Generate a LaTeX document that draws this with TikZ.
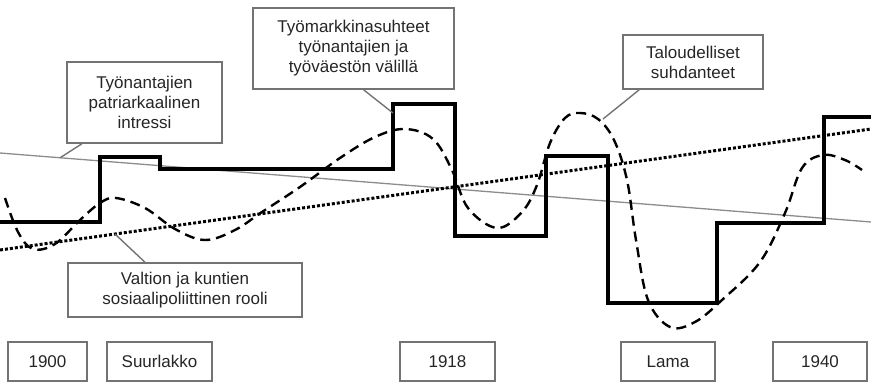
\documentclass[tikz,border=0pt]{standalone}
\usepackage{fontspec}
\setmainfont{Liberation Sans}
\usetikzlibrary{positioning, calc}

\begin{document}
\begin{tikzpicture}[x=1pt, y=-1pt,
    callout/.style={draw=black!55, line width=1.6pt, fill=white, align=center,
        text=black!85, font=\fontsize{17}{20}\selectfont, inner sep=2pt},
    yearbox/.style={callout, minimum height=39pt, anchor=center},
    pointer/.style={draw=black!55, line width=1.4pt},
    trend/.style={black!45, line width=1.3pt},
    levels/.style={black, line width=3.2pt, line join=miter},
    cycle/.style={black, line width=2.4pt, dash pattern=on 10pt off 6pt},
    public/.style={black, line width=3pt, dash pattern=on 3pt off 2pt}]
    \useasboundingbox (0,0) rectangle (871,383);

    % suorat trendit
    \draw[trend] (0,153) -- (871,222) coordinate[pos=0.069] (patrtip);
    \draw[public] (0,250) -- (871,129) coordinate[pos=0.132] (valttip);

    % porrasviiva
    \draw[levels] (0,222) -- (100,222) -- (100,157) -- (160,157) -- (160,169)
        -- (393,169) -- (393,104) -- (455,104) -- (455,236) -- (546,236)
        -- (546,156) -- (608,156) -- (608,303) -- (717,303) -- (717,223)
        -- (824,223) -- (824,117) -- (871,117);
    \coordinate (tyotip) at (393,113);

    % suhdannekaari
    \draw[cycle] plot[smooth, tension=0.6] coordinates {
        (5,198) (18,232) (33,249) (55,244) (80,220) (100,203) (116,198)
        (145,208) (175,229) (205,240) (235,230) (262,212) (300,187)
        (340,158) (375,137) (405,129) (433,139) (452,170) (468,208)
        (497,228) (522,212) (537,185) (550,143) (565,118) (580,113)
        (598,119) (614,140) (627,180) (636,240) (648,300) (670,327)
        (695,322) (722,300) (760,262) (785,213) (802,168) (823,155)
        (845,160) (862,170)};
    \coordinate (taltip) at (603,119);

    % selitteet
    \node[callout, minimum width=155pt, minimum height=81pt] (patr) at (144.5,102.5)
        {Työnantajien\\patriarkaalinen\\intressi};
    \node[callout, minimum width=201pt, minimum height=81pt] (tyom) at (353.5,48.5)
        {Työmarkkinasuhteet\\työnantajien ja\\työväestön välillä};
    \node[callout, minimum width=140pt, minimum height=54pt] (talous) at (693,62)
        {Taloudelliset\\suhdanteet};
    \node[callout, minimum width=234pt, minimum height=54pt] (valtio) at (185,290)
        {Valtion ja kuntien\\sosiaalipoliittinen rooli};

    \draw[pointer] ($(patr.south west)!0.1!(patr.south east)$) -- (patrtip);
    \draw[pointer] ($(tyom.south west)!0.55!(tyom.south east)$) -- (tyotip);
    \draw[pointer] ($(talous.south west)!0.12!(talous.south east)$) -- (taltip);
    \draw[pointer] ($(valtio.north west)!0.33!(valtio.north east)$) -- (valttip);

    % vuosiluvut
    \node[yearbox, minimum width=79pt] (v1900) at (47.5,361.5) {1900};
    \node[yearbox, minimum width=105pt] (suur) at (159.5,361.5) {Suurlakko};
    \node[yearbox, minimum width=95pt] (v1918) at (447.5,361.5) {1918};
    \node[yearbox, minimum width=94pt] (lama) at (668,361.5) {Lama};
    \node[yearbox, minimum width=94pt] (v1940) at (820,361.5) {1940};
\end{tikzpicture}
\end{document}
